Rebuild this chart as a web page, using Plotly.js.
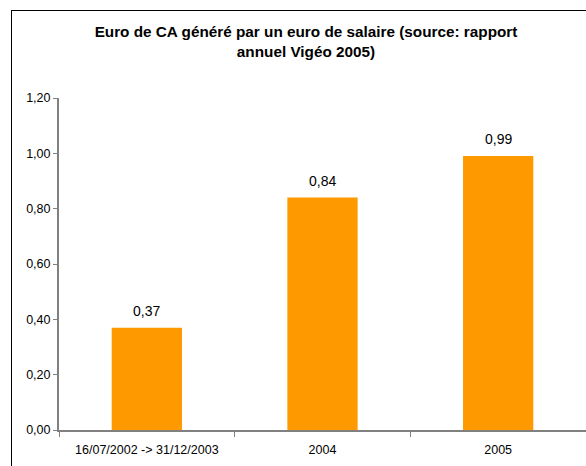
<!DOCTYPE html>
<html>
<head>
<meta charset="utf-8">
<script src="https://cdn.plot.ly/plotly-3.0.1.min.js"></script>
<style>
html,body{margin:0;padding:0;overflow:hidden;background:#fff;}
#wrap{position:relative;width:586px;height:466px;overflow:hidden;}
#chart{position:absolute;left:0;top:0;width:586px;height:466px;}
#frame{position:absolute;left:11px;top:10px;width:620px;height:500px;border:1px solid #000;pointer-events:none;box-sizing:border-box;}
</style>
</head>
<body>
<div id="wrap"><div id="chart"></div><div id="frame"></div></div>
<script>
const categories = ["16/07/2002 -> 31/12/2003", "2004", "2005"];
const values = [0.37, 0.84, 0.99];
const valueLabels = ["0,37", "0,84", "0,99"];
const titleText = "Euro de CA généré par un euro de salaire (source: rapport<br>annuel Vigéo 2005)";

const font = "Liberation Sans, Arial, sans-serif";

const trace = {
  type: "bar",
  x: categories,
  y: values,
  marker: {color: "#FF9900", line: {width: 0}},
  width: 0.4,
  hoverinfo: "none"
};

const annotations = categories.map((c, i) => ({
  x: i, y: values[i], xref: "x", yref: "y",
  text: valueLabels[i], showarrow: false,
  yanchor: "bottom", yshift: 7,
  font: {family: font, size: 14, color: "#000"}
}));

const layout = {
  width: 586, height: 466,
  margin: {l: 59, r: 0, t: 98, b: 36, pad: 0},
  paper_bgcolor: "#fff", plot_bgcolor: "#fff",
  separators: ", ",
  showlegend: false,
  title: {
    text: titleText,
    font: {family: font, size: 15.3, color: "#000", weight: "bold"},
    x: 306/586, xref: "container", xanchor: "center",
    y: 1 - 37/466, yref: "container", yanchor: "top"
  },
  xaxis: {
    type: "category",
    categoryorder: "array", categoryarray: categories,
    range: [-0.5, 2.5], autorange: false,
    showline: true, linecolor: "#808080", linewidth: 2,
    ticks: "outside", tickson: "boundaries", ticklen: 5, tickcolor: "#808080", tickwidth: 1,
    tickangle: 0, ticklabelstandoff: 7,
    showgrid: false, zeroline: false,
    tickfont: {family: font, size: 12.5, color: "#000"},
    fixedrange: true
  },
  yaxis: {
    range: [0, 1.2], autorange: false, dtick: 0.2, tick0: 0,
    tickformat: ".2f",
    showline: true, linecolor: "#808080", linewidth: 2,
    ticks: "outside", ticklen: 4, tickcolor: "#808080", tickwidth: 1,
    showgrid: false, zeroline: false,
    tickfont: {family: font, size: 12.5, color: "#000"},
    fixedrange: true
  },
  annotations: annotations
};

Plotly.newPlot("chart", [trace], layout, {staticPlot: true, displayModeBar: false});
</script>
</body>
</html>
